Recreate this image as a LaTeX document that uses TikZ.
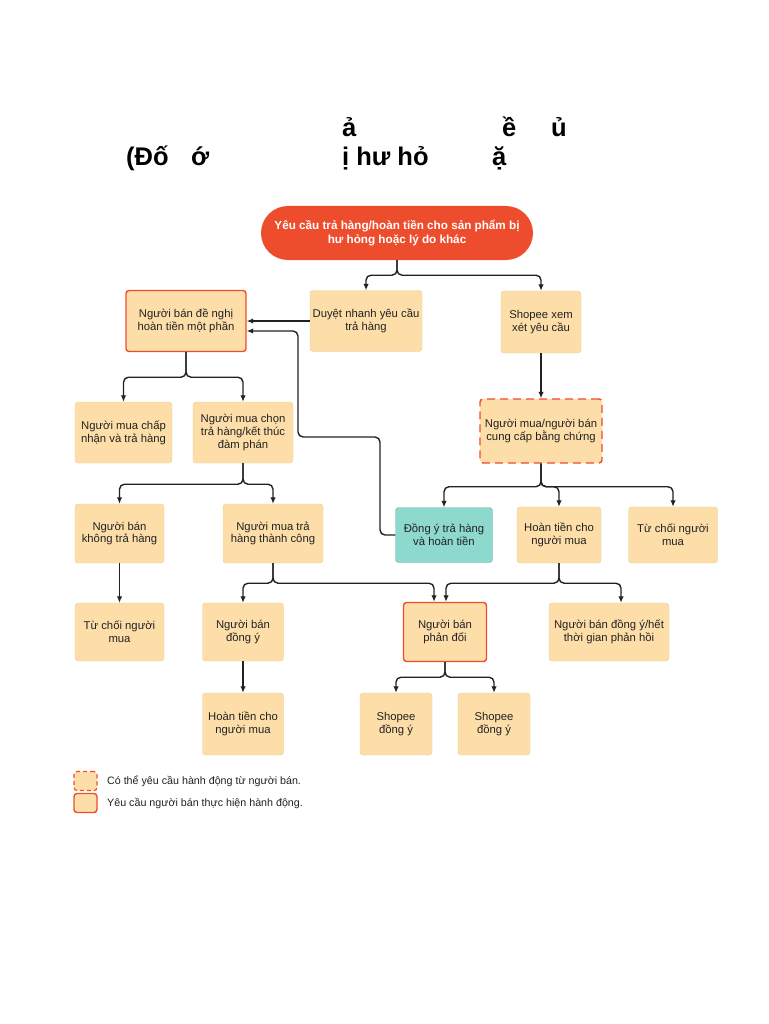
\documentclass[tikz,border=0pt]{standalone}
\usepackage{fontspec}
\setmainfont{Liberation Sans}
\usetikzlibrary{arrows.meta,positioning}

\definecolor{shopred}{HTML}{EE4D2D}
\definecolor{boxfill}{HTML}{FDDEA9}
\definecolor{boxline}{HTML}{EBCF9E}
\definecolor{tealfill}{HTML}{8DD9CD}
\definecolor{inkgray}{HTML}{222222}

\begin{document}
\begin{tikzpicture}[
  x=1pt, y=-1pt,
  >={Latex[length=6.5pt,width=5.5pt]},
  every node/.style={font=\fontsize{11.3}{12.9}\selectfont, text=inkgray},
  box/.style={draw=boxline, fill=boxfill, rounded corners=3pt,
              align=center, inner sep=0pt},
  redbox/.style={box, draw=shopred, line width=1.4pt},
  dashbox/.style={redbox, dash pattern=on 8pt off 5pt},
  tealbox/.style={box, fill=tealfill, draw=tealfill!85!black},
  flow/.style={->, line width=1.4pt, rounded corners=5pt, draw=inkgray},
  titlebit/.style={font=\fontsize{25.5}{28}\selectfont\bfseries,
                   anchor=base west, inner sep=0pt, text=black},
]
  \fill[white] (0,0) rectangle (768,1024);
  \useasboundingbox (0,0) rectangle (768,1024);

  % Title (only the glyphs that show)
  \node[titlebit] (t1) at (342,137) {ả};
  \node[titlebit] (t2) at (502,137) {ề};
  \node[titlebit] (t3) at (551,137) {ủ};
  \node[titlebit] (t4) at (126,166) {(Đố};
  \node[titlebit] (t5) at (191,166) {ớ};
  \node[titlebit] (t6) at (342,166) {ị hư hỏ};
  \node[titlebit] (t7) at (492,166) {ặ};

  % Start
  \node[fill=shopred, rounded corners=27pt, minimum width=272pt,
        minimum height=54pt, inner sep=0pt, align=center, text=white,
        font=\fontsize{11.7}{13.8}\selectfont\bfseries] (req) at (397,233)
    {Yêu cầu trả hàng/hoàn tiền cho sản phẩm bị\\hư hỏng hoặc lý do khác};

  % Row 1
  \node[redbox, minimum width=120pt, minimum height=61pt] (offer) at (186,321)
    {Người bán đề nghị\\hoàn tiền một phần};
  \node[box, minimum width=112pt, minimum height=61pt] (fast) at (366,321)
    {Duyệt nhanh yêu cầu\\trả hàng};
  \node[box, minimum width=80pt, minimum height=62pt] (review) at (541,322)
    {Shopee xem\\xét yêu cầu};

  % Row 2
  \node[box, minimum width=97pt, minimum height=61pt] (accept) at (123.5,432.5)
    {Người mua chấp\\nhận và trả hàng};
  \node[box, minimum width=100pt, minimum height=61pt] (choose) at (243,432.5)
    {Người mua chọn\\trả hàng/kết thúc\\đàm phán};
  \node[dashbox, minimum width=122pt, minimum height=64pt] (proof) at (541,431)
    {Người mua/người bán\\cung cấp bằng chứng};

  % Row 3
  \node[box, minimum width=89pt, minimum height=59pt] (noret) at (119.5,533.5)
    {Người bán\\không trả hàng};
  \node[box, minimum width=100pt, minimum height=59pt] (retok) at (273,533.5)
    {Người mua trả\\hàng thành công};
  \node[tealbox, minimum width=97pt, minimum height=55pt] (agree) at (444,535)
    {Đồng ý trả hàng\\và hoàn tiền};
  \node[box, minimum width=84pt, minimum height=56pt] (refund) at (559,535)
    {Hoàn tiền cho\\người mua};
  \node[box, minimum width=89pt, minimum height=56pt] (rejectA) at (673,535)
    {Từ chối người\\mua};

  % Row 4
  \node[box, minimum width=89pt, minimum height=58pt] (rejectB) at (119.5,632)
    {Từ chối người\\mua};
  \node[box, minimum width=81pt, minimum height=58pt] (sellok) at (243,632)
    {Người bán\\đồng ý};
  \node[redbox, minimum width=83pt, minimum height=59pt] (object) at (445,632)
    {Người bán\\phản đối};
  \node[box, minimum width=120pt, minimum height=58pt] (timeout) at (609,632)
    {Người bán đồng ý/hết\\thời gian phản hồi};

  % Row 5
  \node[box, minimum width=81pt, minimum height=62pt] (refundB) at (243,724)
    {Hoàn tiền cho\\người mua};
  \node[box, minimum width=72pt, minimum height=62pt] (shopA) at (396,724)
    {Shopee\\đồng ý};
  \node[box, minimum width=72pt, minimum height=62pt] (shopB) at (494,724)
    {Shopee\\đồng ý};

  % Connectors
  \draw[flow] (req.south) -- ++(0,15) -| (fast.north);
  \draw[flow] (req.south) -- ++(0,15) -| (review.north);
  \draw[flow] (fast.west) -- (offer.east);
  \draw[flow] (review.south) -- (proof.north);

  \draw[flow] (offer.south) -- ++(0,25) -| (accept.north);
  \draw[flow] (offer.south) -- ++(0,25) -| (choose.north);

  \draw[flow] (choose.south) -- ++(0,21) -| (noret.north);
  \draw[flow] (choose.south) -- ++(0,21) -| (retok.north);

  \draw[flow] (proof.south) -- ++(0,23) -| (agree.north);
  \draw[flow] (proof.south) -- ++(0,23) -| (refund.north);
  \draw[flow] (proof.south) -- ++(0,23) -| (rejectA.north);

  \draw[flow] (agree.west) -| (380,437) -| (298,331)
    -- ([yshift=-10pt]offer.east);

  \draw[flow] (noret.south) -- (rejectB.north);
  \draw[flow] (retok.south) -- ++(0,20) -| (sellok.north);
  \draw[flow] (retok.south) -- ++(0,20) -| ([xshift=-11pt]object.north);
  \draw[flow] (refund.south) -- ++(0,20) -| ([xshift=1pt]object.north);
  \draw[flow] (refund.south) -- ++(0,20) -| ([xshift=12pt]timeout.north);

  \draw[flow] (sellok.south) -- (refundB.north);
  \draw[flow] (object.south) -- ++(0,15) -| (shopA.north);
  \draw[flow] (object.south) -- ++(0,15) -| (shopB.north);

  % Legend
  \node[dashbox, line width=1.2pt, dash pattern=on 4pt off 3pt,
        minimum width=23pt, minimum height=19pt] (keyA) at (85.5,781) {};
  \node[redbox, minimum width=23pt, minimum height=19pt] (keyB) at (85.5,803) {};
  \node[anchor=west, font=\fontsize{10.7}{12}\selectfont] (keyAtext)
    at ([xshift=6pt]keyA.east) {Có thể yêu cầu hành động từ người bán.};
  \node[anchor=west, font=\fontsize{10.7}{12}\selectfont] (keyBtext)
    at ([xshift=6pt]keyB.east) {Yêu cầu người bán thực hiện hành động.};
\end{tikzpicture}
\end{document}
